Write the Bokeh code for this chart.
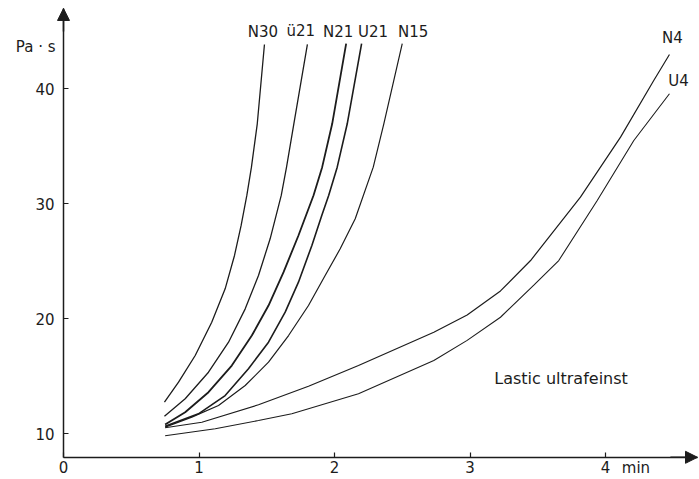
from bokeh.plotting import figure
from bokeh.models import Range1d, FixedTicker, Arrow, NormalHead, Label
from bokeh.embed import file_html
from bokeh.resources import INLINE

# ---- data ----
x_ticks = [0, 1, 2, 3, 4]
y_ticks = [10, 20, 30, 40]

N30_t = [0.745, 0.849, 0.972, 1.094, 1.193, 1.262, 1.311, 1.353, 1.387, 1.43, 1.483]
N30_v = [12.72, 14.46, 16.78, 19.68, 22.58, 25.48, 28.09, 30.70, 33.16, 36.93, 43.83]

U21a_t = [0.745, 0.898, 1.070, 1.218, 1.341, 1.439, 1.525, 1.607, 1.646, 1.70, 1.80]
U21a_v = [11.50, 13.02, 15.33, 17.94, 20.84, 23.74, 26.93, 30.70, 33.16, 36.93, 43.83]

N21_t = [0.75, 0.898, 1.070, 1.242, 1.390, 1.513, 1.624, 1.734, 1.845, 1.909, 1.983, 2.086]
N21_v = [10.78, 11.85, 13.59, 15.91, 18.52, 21.13, 24.03, 27.22, 30.70, 33.16, 36.93, 43.90]

U21_t = [0.75, 0.996, 1.193, 1.365, 1.513, 1.636, 1.734, 1.833, 1.906, 1.957, 2.02, 2.094, 2.20]
U21_v = [10.63, 11.71, 13.30, 15.63, 17.94, 20.55, 23.16, 26.35, 28.96, 30.70, 33.16, 36.93, 43.90]

N15_t = [0.75, 0.947, 1.144, 1.341, 1.513, 1.661, 1.808, 1.931, 2.042, 2.153, 2.286, 2.364, 2.50]
N15_v = [10.55, 11.42, 12.43, 14.17, 16.20, 18.52, 21.13, 23.74, 26.06, 28.67, 33.16, 36.93, 43.90]

N4_t = [0.75, 1.021, 1.439, 1.808, 2.177, 2.733, 2.979, 3.225, 3.447, 3.815, 4.111, 4.356, 4.472]
N4_v = [10.50, 10.98, 12.50, 14.11, 15.91, 18.81, 20.30, 22.40, 25.04, 30.55, 35.77, 40.70, 42.96]

U4_t = [0.75, 1.12, 1.439, 1.685, 2.177, 2.733, 2.979, 3.225, 3.471, 3.655, 3.939, 4.209, 4.472]
U4_v = [9.80, 10.41, 11.13, 11.71, 13.45, 16.35, 18.10, 20.11, 22.90, 25.04, 30.26, 35.48, 39.54]

series_names = ["N30", "ü21", "N21", "U21", "N15", "N4", "U4"]
series_t = [N30_t, U21a_t, N21_t, U21_t, N15_t, N4_t, U4_t]
series_v = [N30_v, U21a_v, N21_v, U21_v, N15_v, N4_v, U4_v]

y_unit = "Pa · s"
x_unit = "min"
note = "Lastic ultrafeinst"

# ---- figure: the frame covers the whole canvas, axes sit at fixed data locations ----
PX_T = 135.5   # px per minute
PX_V = 11.5    # px per Pa·s
XA0, XA1 = 0, 4.679      # extent of the x axis (arrow tip)
YA0, YA1 = 7.93, 46.96   # extent of the y axis (arrow tip)

FONT = "DejaVu Sans"
INK = "#1c1c1c"

p = figure(width=699, height=479, output_backend="svg", toolbar_location=None,
           x_range=Range1d(-63 / PX_T, (699 - 63) / PX_T),
           y_range=Range1d(10 - 46 / PX_V, 10 + 433 / PX_V),
           min_border_left=0, min_border_right=0, min_border_top=0, min_border_bottom=0)
p.grid.visible = False
p.outline_line_color = None
p.background_fill_color = "white"
p.border_fill_color = "white"

for ax in (p.xaxis[0], p.yaxis[0]):
    ax.axis_line_color = INK
    ax.axis_line_width = 1.5
    ax.major_tick_line_color = INK
    ax.major_tick_line_width = 1.2
    ax.major_tick_in = 5
    ax.major_tick_out = 0
    ax.minor_tick_line_color = None
    ax.major_label_text_font = FONT
    ax.major_label_text_font_size = "15px"
    ax.major_label_text_color = INK

p.xaxis[0].fixed_location = YA0
p.yaxis[0].fixed_location = XA0
p.xaxis[0].bounds = (XA0, XA1)
p.yaxis[0].bounds = (YA0, YA1)
p.xaxis[0].ticker = FixedTicker(ticks=x_ticks)
p.yaxis[0].ticker = FixedTicker(ticks=y_ticks)
p.xaxis[0].major_label_standoff = 4
p.yaxis[0].major_label_standoff = 9

widths = [1.3, 1.3, 1.8, 1.6, 1.2, 1.2, 1.1]
for t, v, w in zip(series_t, series_v, widths):
    p.line(t, v, line_color=INK, line_width=w)

# curve labels, placed just above each curve's end
label_off = [(-1.5, 12.5), (-6.7, 13), (-8, 12), (11.5, 12), (11, 12), (3, 16), (9, 13)]
for name, t, v, (dx, dy) in zip(series_names, series_t, series_v, label_off):
    p.add_layout(Label(x=t[-1] + dx / PX_T, y=v[-1] + dy / PX_V, text=name,
                       text_align="center", text_baseline="middle",
                       text_font=FONT, text_font_size="15px", text_color=INK))

# axis arrows
p.add_layout(Arrow(x_start=XA1 - 0.2, y_start=YA0, x_end=XA1, y_end=YA0,
                   line_color=INK, line_width=1.5,
                   end=NormalHead(size=12, fill_color=INK, line_color=INK)))
p.add_layout(Arrow(x_start=XA0, y_start=YA1 - 2, x_end=XA0, y_end=YA1,
                   line_color=INK, line_width=1.5,
                   end=NormalHead(size=12, fill_color=INK, line_color=INK)))

# unit labels and note
p.add_layout(Label(x=XA0, y=43.65, x_offset=-8, text=y_unit, text_align="right",
                   text_baseline="middle", text_font=FONT, text_font_size="15px",
                   text_color=INK))
p.add_layout(Label(x=4.225, y=YA0 - 10.5 / PX_V, text=x_unit, text_align="center",
                   text_baseline="middle", text_font=FONT, text_font_size="15px",
                   text_color=INK))
p.add_layout(Label(x=3.672, y=14.74, text=note, text_align="center",
                   text_baseline="middle", text_font=FONT, text_font_size="16px",
                   text_color=INK))

open("out.html", "w").write(file_html(p, INLINE))
